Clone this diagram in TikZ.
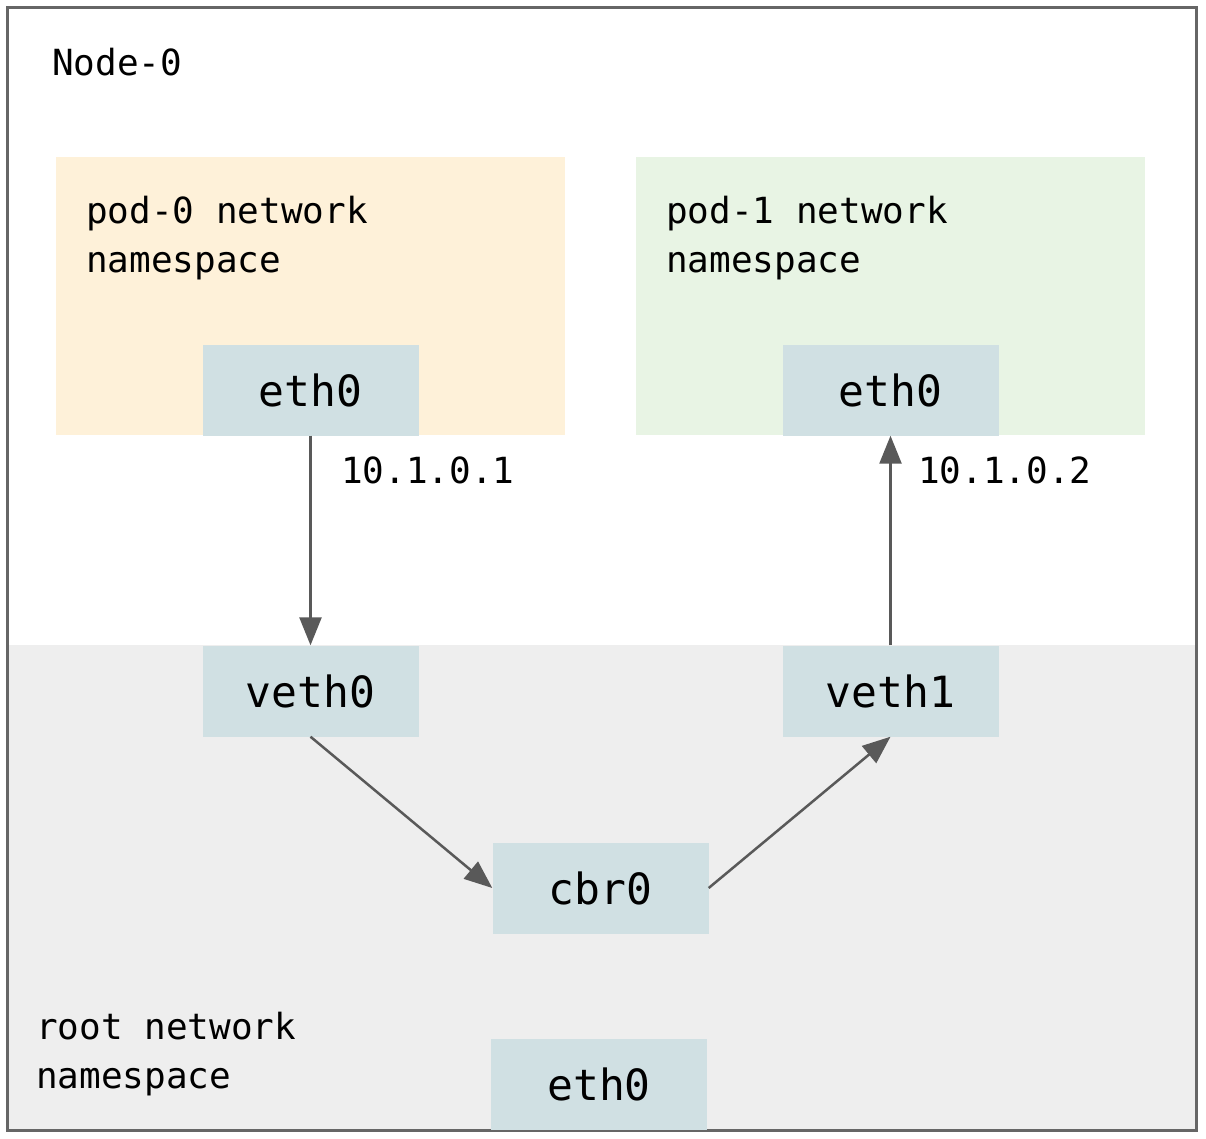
\documentclass[tikz,border=0pt]{standalone}
\usepackage{fontspec}
\newfontfamily\monofont{DejaVu Sans Mono}
\usetikzlibrary{arrows.meta}
\definecolor{framegray}{HTML}{666666}
\definecolor{rootgray}{HTML}{EEEEEE}
\definecolor{podorange}{HTML}{FEF1D9}
\definecolor{podgreen}{HTML}{E8F4E4}
\definecolor{ifcyan}{HTML}{D0E0E3}
\definecolor{arrowgray}{HTML}{595959}
\tikzset{
  region/.style={rectangle, inner sep=0pt, draw=none},
  iface/.style={rectangle, inner sep=0pt, fill=ifcyan, minimum width=216pt, minimum height=91pt,
    font=\monofont\fontsize{43}{50}\selectfont},
  label/.style={inner sep=0pt, anchor=base west, align=left,
    font=\monofont\fontsize{36}{49.5}\selectfont},
  conn/.style={draw=arrowgray, line width=2.5pt,
    -{Triangle[length=28pt,width=22pt]}, shorten >=0pt}
}
\begin{document}
\begin{tikzpicture}[x=1pt,y=-1pt]
\useasboundingbox (0,0) rectangle (1206,1138);
% root namespace background
\node[region, fill=rootgray, minimum width=1187pt, minimum height=486pt] (root) at (601.5,888) {};
% outer frame
\node[region, draw=framegray, line width=3pt, minimum width=1189pt, minimum height=1123pt] (frame) at (601.5,568.5) {};
% pod namespaces
\node[region, fill=podorange, minimum width=509pt, minimum height=278pt] (pod0) at (310.5,296) {};
\node[region, fill=podgreen, minimum width=509pt, minimum height=278pt] (pod1) at (890.5,296) {};
% labels (base anchor = baseline of last line)
\node[label] (nodelbl) at (52,75) {Node-0};
\node[label] (pod0lbl) at (86,272.5) {pod-0 network\\namespace};
\node[label] (pod1lbl) at (666,272.5) {pod-1 network\\namespace};
\node[label] (rootlbl) at (36,1088.5) {root network\\namespace};
\node[label] (ip0) at (341,483) {10.1.0.1};
\node[label] (ip1) at (918,483) {10.1.0.2};
% interfaces
\node[iface] (eth0a) at (310.5,390) {eth0};
\node[iface] (eth0b) at (890.5,390) {eth0};
\node[iface] (veth0) at (310.5,691) {veth0};
\node[iface] (veth1) at (890.5,691) {veth1};
\node[iface] (cbr0) at (600.5,888) {cbr0};
\node[iface] (eth0r) at (599,1084) {eth0};
% connectors
\draw[conn] (eth0a.south) -- (veth0.north);
\draw[conn] (veth1.north) -- (eth0b.south);
\draw[conn] (veth0.south) -- (cbr0.west);
\draw[conn] (cbr0.east) -- (veth1.south);
\end{tikzpicture}
\end{document}
